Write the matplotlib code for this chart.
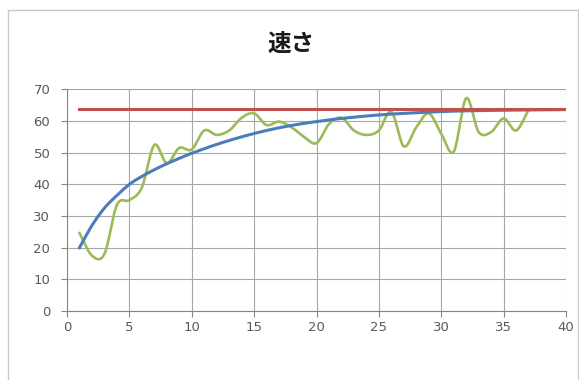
import numpy as np
import matplotlib.pyplot as plt
from matplotlib.patches import Rectangle

plt.rcParams['font.family'] = ['Noto Sans CJK JP', 'DejaVu Sans']

# measured speed per second
t_meas = list(range(1, 38))
v_meas = [24.6, 17.5, 18.0, 33.5, 35.0, 39.0, 52.4, 46.7, 51.5, 51.0,
          57.0, 55.6, 57.0, 61.0, 62.4, 58.7, 59.8, 58.0, 55.0, 53.0,
          59.0, 61.0, 57.0, 55.6, 57.0, 62.9, 52.0, 58.0, 62.4, 56.0,
          50.3, 67.2, 56.5, 56.5, 60.8, 57.0, 63.5]

# model curve
t_model = [1, 2, 3, 4, 5, 6, 7, 8, 9, 10, 12, 14, 16, 18, 20, 22, 25, 28, 31, 35, 40]
v_model = [20.0, 27.0, 32.5, 36.5, 40.0, 42.5, 44.6, 46.5, 48.2, 49.8, 52.6, 55.0,
           57.0, 58.6, 59.8, 60.8, 61.9, 62.6, 63.1, 63.4, 63.6]

# terminal speed
t_limit = [1, 40]
v_limit = [63.8, 63.8]

x_ticks = [0, 5, 10, 15, 20, 25, 30, 35, 40]
y_ticks = [0, 10, 20, 30, 40, 50, 60, 70]


def smooth(xs, ys, n=20):
    # Catmull-Rom curve through the points, like a "smoothed line" chart
    xs = np.asarray(xs, float)
    ys = np.asarray(ys, float)
    px = np.concatenate([[2 * xs[0] - xs[1]], xs, [2 * xs[-1] - xs[-2]]])
    py = np.concatenate([[2 * ys[0] - ys[1]], ys, [2 * ys[-1] - ys[-2]]])
    out_x, out_y = [], []
    u = np.linspace(0, 1, n, endpoint=False)
    for i in range(1, len(px) - 2):
        for p, out in ((px, out_x), (py, out_y)):
            p0, p1, p2, p3 = p[i - 1], p[i], p[i + 1], p[i + 2]
            out.extend(0.5 * (2 * p1 + (-p0 + p2) * u
                              + (2 * p0 - 5 * p1 + 4 * p2 - p3) * u ** 2
                              + (-p0 + 3 * p1 - 3 * p2 + p3) * u ** 3))
    out_x.append(xs[-1])
    out_y.append(ys[-1])
    return out_x, out_y


fig = plt.figure(figsize=(5.79, 3.80), dpi=100)
fig.patches.append(Rectangle((8 / 579, -0.05), 570 / 579, 1 - 10 / 380 + 0.05,
                             transform=fig.transFigure, fill=False,
                             edgecolor='#c8c8c8', linewidth=1))

ax = fig.add_axes([67 / 579, 1 - 311 / 380, 499 / 579, 221.7 / 380])

gx, gy = smooth(t_meas, v_meas)
ax.plot(gx, gy, color='#9bbb59', lw=1.9, zorder=3)
bx, by = smooth(t_model, v_model)
ax.plot(bx, by, color='#4a7ebb', lw=2.2, zorder=4)
ax.plot(t_limit, v_limit, color='#c0504d', lw=2.2, zorder=5)

ax.set_xlim(0, 40)
ax.set_ylim(0, 70)
ax.set_xticks(x_ticks)
ax.set_yticks(y_ticks)
ax.grid(True, color='#a6a6a6', lw=0.8)
ax.set_axisbelow(True)
for side in ['top', 'right']:
    ax.spines[side].set_visible(False)
for side in ['left', 'bottom']:
    ax.spines[side].set_color('#868686')
    ax.spines[side].set_linewidth(0.8)
ax.tick_params(colors='#868686', length=4, width=0.8, labelcolor='#595959',
               labelsize=9.5)
ax.tick_params(axis='y', pad=8)
for lab in ax.get_xticklabels() + ax.get_yticklabels():
    lab.set_family(['Liberation Sans Narrow', 'DejaVu Sans'])

fig.text(0.503, 1 - 44 / 380, '速さ', ha='center', va='center',
         fontsize=17, fontweight='bold', color='#1a1a1a')

fig.savefig('out.png', dpi=100)
